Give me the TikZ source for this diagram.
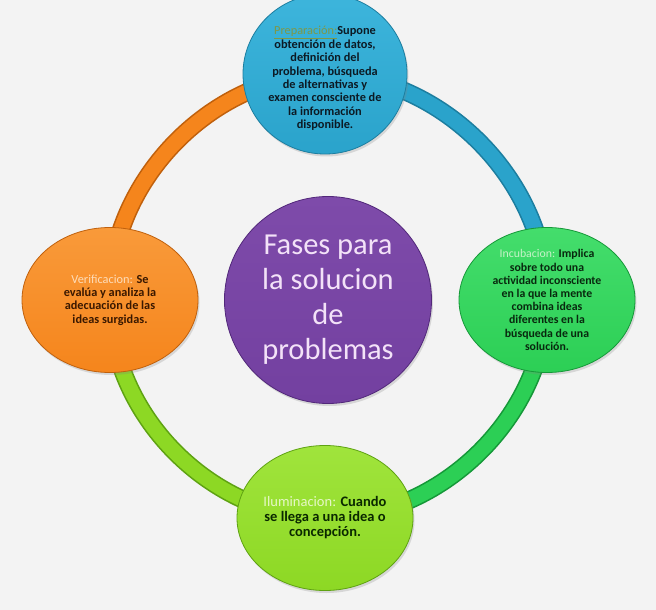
\documentclass[tikz,border=0pt]{standalone}
\usepackage{fontspec}
\setmainfont{Carlito}
\usepackage{tikz}
\usepackage{xcolor}
\usetikzlibrary{shapes.geometric,shadows,positioning,backgrounds}

\definecolor{fondo}{HTML}{F3F3F3}
\definecolor{azul}{HTML}{2AA3CB}
\definecolor{azulcl}{HTML}{3DB5DC}
\definecolor{azulos}{HTML}{1C7EA0}
\definecolor{naranja}{HTML}{F5851C}
\definecolor{naranjacl}{HTML}{F99A3A}
\definecolor{naranjaos}{HTML}{C0600C}
\definecolor{verde}{HTML}{2CCF55}
\definecolor{verdecl}{HTML}{44DD6C}
\definecolor{verdeos}{HTML}{159838}
\definecolor{lima}{HTML}{8DD824}
\definecolor{limacl}{HTML}{A0E43C}
\definecolor{limaos}{HTML}{5EA212}
\definecolor{morado}{HTML}{7340A0}
\definecolor{moradocl}{HTML}{7E4BAA}
\definecolor{moradoos}{HTML}{52287A}
\definecolor{txtprep}{HTML}{7E9848}
\definecolor{txtveri}{HTML}{FDDDBA}
\definecolor{txtincu}{HTML}{C6F2C8}
\definecolor{txtilum}{HTML}{E6F7C6}

\begin{document}
\begin{tikzpicture}[x=1pt,y=1pt,node distance=220pt,
	fase/.style={ellipse,minimum width=176pt,minimum height=145pt,inner sep=0pt,align=center,line width=0.8pt,
		drop shadow={opacity=0.25,shadow xshift=1.5pt,shadow yshift=-2.5pt}},
	texto/.style={font=\fontsize{12.3}{13.4}\selectfont\bfseries},
	anillo/.style={line width=1.6pt,double distance=15pt,bend left=45,looseness=0.95}]
		\useasboundingbox (0,0) rectangle (656,-610);
		\node (fases) [circle,minimum size=207pt,inner sep=0pt,align=center,top color=moradocl,bottom color=morado,draw=moradoos,line width=0.8pt,
			drop shadow={opacity=0.25,shadow xshift=1.5pt,shadow yshift=-2.5pt},
			text={rgb,255:red,243;green,226;blue,248},font=\fontsize{30.5}{35}\selectfont] at (328,-300)
			{Fases para\\la solucion\\de\\problemas};
		\node (prep) [above of=fases,yshift=6pt,xshift=-3pt,fase,texto,minimum width=164pt,top color=azulcl,bottom color=azul,draw=azulos,text={rgb,255:red,12;green,26;blue,36}]
			{\mbox{}\\[4pt]\textcolor{txtprep}{\underline{\mdseries Preparación:}}Supone\\obtención de datos,\\definición del\\problema, búsqueda\\de alternativas y\\examen consciente de\\la información\\disponible.};
		\node (incu) [right of=fases,xshift=-1pt,fase,texto,top color=verdecl,bottom color=verde,draw=verdeos,text={rgb,255:red,8;green,40;blue,14},
			font=\fontsize{11.8}{13.2}\selectfont\bfseries]
			{\textcolor{txtincu}{\mdseries Incubacion:} Implica\\sobre todo una\\actividad inconsciente\\en la que la mente\\combina ideas\\diferentes en la\\búsqueda de una\\solución.};
		\node (ilum) [below of=fases,yshift=2pt,xshift=-3pt,fase,texto,top color=limacl,bottom color=lima,draw=limaos,text={rgb,255:red,10;green,40;blue,0},
			font=\fontsize{14.5}{15}\selectfont\bfseries]
			{\textcolor{txtilum}{\mdseries Iluminacion:} Cuando\\se llega a una idea o\\concepción.};
		\node (veri) [left of=fases,xshift=2pt,fase,texto,top color=naranjacl,bottom color=naranja,draw=naranjaos,text={rgb,255:red,58;green,24;blue,0}]
			{\textcolor{txtveri}{\mdseries Verificacion:} Se\\evalúa y analiza la\\adecuación de las\\ideas surgidas.};
		\begin{pgfonlayer}{background}
			\fill[fondo] (0,0) rectangle (656,-610);
			\draw[anillo,draw=azulos,double=azul] (prep.center) to (incu.center);
			\draw[anillo,draw=verdeos,double=verde] (incu.center) to (ilum.center);
			\draw[anillo,draw=limaos,double=lima] (ilum.center) to (veri.center);
			\draw[anillo,draw=naranjaos,double=naranja] (veri.center) to (prep.center);
		\end{pgfonlayer}
\end{tikzpicture}
\end{document}
